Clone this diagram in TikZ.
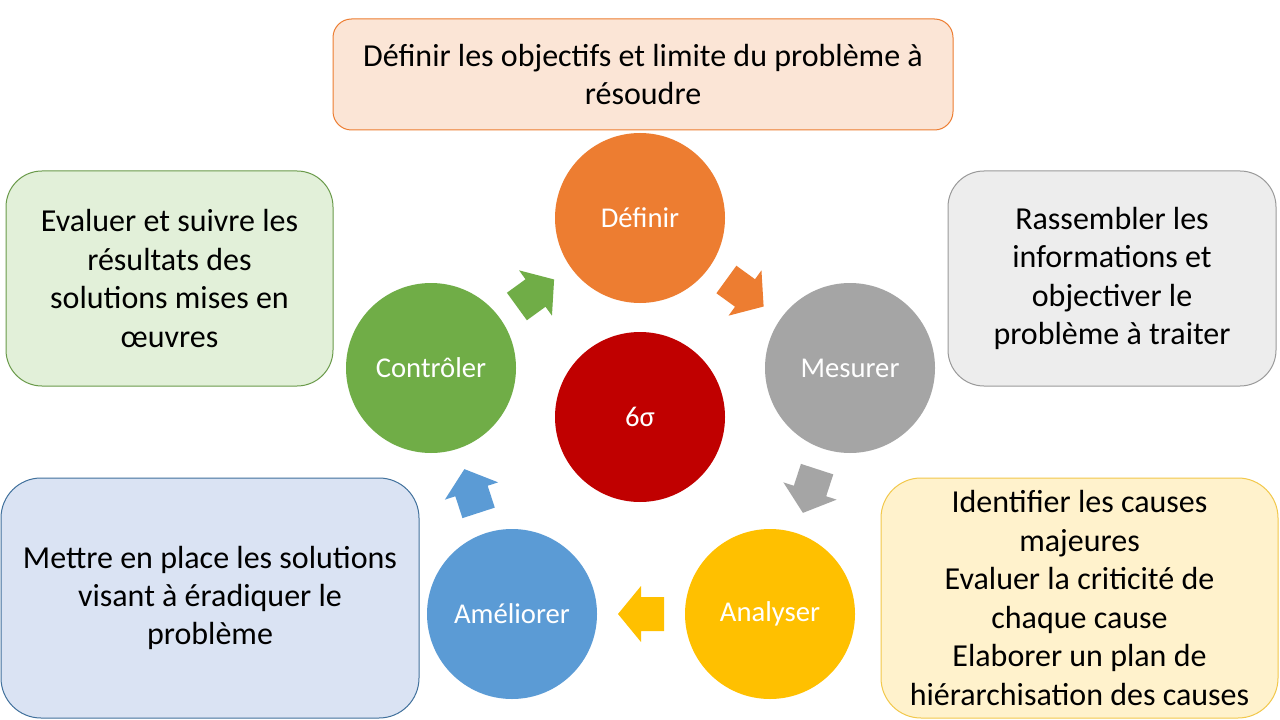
\documentclass[tikz,border=0pt]{standalone}
\usepackage{fontspec}
\setmainfont{Carlito}
\usetikzlibrary{calc}
\definecolor{corange}{HTML}{ED7D31}
\definecolor{cgray}{HTML}{A5A5A5}
\definecolor{cyellow}{HTML}{FFC000}
\definecolor{cblue}{HTML}{5B9BD5}
\definecolor{cgreen}{HTML}{70AD47}
\definecolor{cred}{HTML}{C00000}
\definecolor{forange}{HTML}{FBE5D6}
\definecolor{fgray}{HTML}{EDEDED}
\definecolor{fyellow}{HTML}{FFF2CC}
\definecolor{fblue}{HTML}{DAE3F3}
\definecolor{fgreen}{HTML}{E2F0D9}
\definecolor{dgreen}{HTML}{6A9A4A}
\definecolor{dblue}{HTML}{41719C}
\definecolor{dyellow}{HTML}{F2C84B}
\definecolor{dgray}{HTML}{9A9A9A}
\tikzset{
  stepcircle/.style={circle, minimum size=127.5pt, inner sep=0pt, text=white,
    font=\fontsize{21.5}{26}\selectfont},
  infobox/.style={rectangle, align=center, inner sep=0pt, line width=0.75pt,
    font=\fontsize{24}{28.8}\selectfont},
  pics/blockarrow/.style={code={
    \fill[rotate=#1] (-23,-17) -- (0,-17) -- (0,-28) -- (23,0) -- (0,28) -- (0,17) -- (-23,17) -- cycle;}}
}
\begin{document}
\begin{tikzpicture}[x=0.75pt,y=-0.75pt]
\useasboundingbox[fill=white] (0,0) rectangle (1280,720);

% boxes
\node[infobox, draw=corange, fill=forange, rounded corners=13.9pt,
  minimum width=465pt, minimum height=83.25pt] (bdef) at (643,74.5)
  {Définir les objectifs et limite du problème à\\résoudre};
\node[infobox, draw=dgreen, fill=fgreen, rounded corners=27pt,
  minimum width=245.25pt, minimum height=161.25pt] (bctrl) at (169.5,278.5)
  {Evaluer et suivre les\\résultats des\\solutions mises en\\œuvres};
\node[infobox, draw=dgray, fill=fgray, rounded corners=27pt,
  minimum width=246pt, minimum height=161.25pt] (bmes) at (1112,278.5)
  {Rassembler les\\informations et\\objectiver le\\problème à traiter};
\node[infobox, draw=dblue, fill=fblue, rounded corners=30pt,
  minimum width=313.5pt, minimum height=180pt] (bame) at (210,598)
  {Mettre en place les solutions\\visant à éradiquer le\\problème};
\node[infobox, draw=dyellow, fill=fyellow, rounded corners=30pt,
  minimum width=297.75pt, minimum height=180pt] (bana) at (1079.5,598)
  {Identifier les causes\\majeures\\Evaluer la criticité de\\chaque cause\\Elaborer un plan de\\hiérarchisation des causes};

% circles
\node[stepcircle, fill=corange] (def) at (640,218) {Définir};
\node[stepcircle, fill=cgray] (mes) at (850,368) {Mesurer};
\node[stepcircle, fill=cyellow] (ana) at (770,614) {Analyser};
\node[stepcircle, fill=cblue] (ame) at (512,614) {Améliorer};
\node[stepcircle, fill=cgreen] (ctrl) at (431,368) {Contrôler};
\node[stepcircle, fill=cred] (six) at (640,417) {6σ};

% block arrows
\pic[color=cgreen] at ($(ctrl)!0.5!(def)$) {blockarrow=36};
\pic[color=corange] at ($(def)!0.5!(mes)$) {blockarrow=-36};
\pic[color=cgray] at ($(mes)!0.5!(ana)$) {blockarrow=-108};
\pic[color=cyellow] at ($(ana)!0.5!(ame)$) {blockarrow=180};
\pic[color=cblue] at ($(ame)!0.5!(ctrl)$) {blockarrow=108};
\end{tikzpicture}
\end{document}
